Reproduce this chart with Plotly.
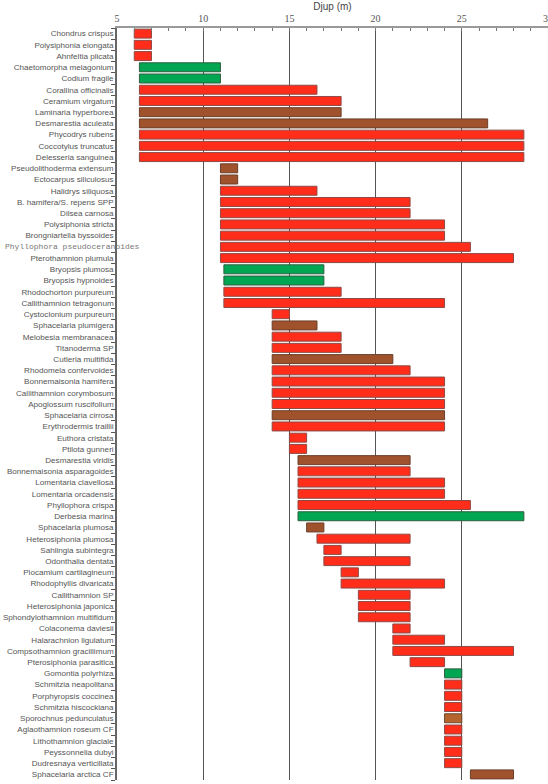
import plotly.graph_objects as go

species = [
    "Chondrus crispus", "Polysiphonia elongata", "Ahnfeltia plicata",
    "Chaetomorpha melagonium", "Codium fragile", "Corallina officinalis",
    "Ceramium virgatum", "Laminaria hyperborea", "Desmarestia aculeata",
    "Phycodrys rubens", "Coccotylus truncatus", "Delesseria sanguinea",
    "Pseudolithoderma extensum", "Ectocarpus siliculosus", "Halidrys siliquosa",
    "B. hamifera/S. repens SPP", "Dilsea carnosa", "Polysiphonia stricta",
    "Brongniartella byssoides", "Phyllophora pseudoceranoides", "Pterothamnion plumula",
    "Bryopsis plumosa", "Bryopsis hypnoides", "Rhodochorton purpureum",
    "Callithamnion tetragonum", "Cystoclonium purpureum", "Sphacelaria plumigera",
    "Melobesia membranacea", "Titanoderma SP", "Cutleria multifida",
    "Rhodomela confervoides", "Bonnemaisonia hamifera", "Callithamnion corymbosum",
    "Apoglossum ruscifolium", "Sphacelaria cirrosa", "Erythrodermis traillii",
    "Euthora cristata", "Ptilota gunneri", "Desmarestia viridis",
    "Bonnemaisonia asparagoides", "Lomentaria clavellosa", "Lomentaria orcadensis",
    "Phyllophora crispa", "Derbesia marina", "Sphacelaria plumosa",
    "Heterosiphonia plumosa", "Sahlingia subintegra", "Odonthalia dentata",
    "Plocamium cartilagineum", "Rhodophyllis divaricata", "Callithamnion SP",
    "Heterosiphonia japonica", "Sphondylothamnion multifidum", "Colaconema daviesii",
    "Halarachnion ligulatum", "Compsothamnion gracillimum", "Pterosiphonia parasitica",
    "Gomontia polyrhiza", "Schmitzia neapolitana", "Porphyropsis coccinea",
    "Schmitzia hiscockiana", "Sporochnus pedunculatus", "Aglaothamnion roseum CF",
    "Lithothamnion glaciale", "Peyssonnelia dubyi", "Dudresnaya verticillata",
    "Sphacelaria arctica CF",
]

depth_min = [
    6, 6, 6,
    6.3, 6.3, 6.3,
    6.3, 6.3, 6.3,
    6.3, 6.3, 6.3,
    11, 11, 11,
    11, 11, 11,
    11, 11, 11,
    11.2, 11.2, 11.2,
    11.2, 14, 14,
    14, 14, 14,
    14, 14, 14,
    14, 14, 14,
    15, 15, 15.5,
    15.5, 15.5, 15.5,
    15.5, 15.5, 16,
    16.6, 17, 17,
    18, 18, 19,
    19, 19, 21,
    21, 21, 22,
    24, 24, 24,
    24, 24, 24,
    24, 24, 24,
    25.5,
]

depth_max = [
    7, 7, 7,
    11, 11, 16.6,
    18, 18, 26.5,
    28.6, 28.6, 28.6,
    12, 12, 16.6,
    22, 22, 24,
    24, 25.5, 28,
    17, 17, 18,
    24, 15, 16.6,
    18, 18, 21,
    22, 24, 24,
    24, 24, 24,
    16, 16, 22,
    22, 24, 24,
    25.5, 28.6, 17,
    22, 18, 22,
    19, 24, 22,
    22, 22, 22,
    24, 28, 24,
    25, 25, 25,
    25, 25, 25,
    25, 25, 25,
    28,
]

# group: r = red alga, g = green alga, b = brown alga, o = light brown
group = [
    "r", "r", "r",
    "g", "g", "r",
    "r", "b", "b",
    "r", "r", "r",
    "b", "b", "r",
    "r", "r", "r",
    "r", "r", "r",
    "g", "g", "r",
    "r", "r", "b",
    "r", "r", "b",
    "r", "r", "r",
    "r", "b", "r",
    "r", "r", "b",
    "r", "r", "r",
    "r", "g", "b",
    "r", "r", "r",
    "r", "r", "r",
    "r", "r", "r",
    "r", "r", "r",
    "g", "r", "r",
    "r", "o", "r",
    "r", "r", "r",
    "b",
]

x_ticks = [5, 10, 15, 20, 25, 30]

fill = {"r": "#FF2D1A", "g": "#00A651", "b": "#A0522D", "o": "#B5652D"}
edge = {"r": "#8E4A46", "g": "#2F5F40", "b": "#6A3F2A", "o": "#6A4A30"}

widths = [hi - lo for lo, hi in zip(depth_min, depth_max)]

fig = go.Figure()
fig.add_trace(go.Bar(
    y=species,
    x=widths,
    base=depth_min,
    orientation="h",
    marker=dict(
        color=[fill[g] for g in group],
        line=dict(color=[edge[g] for g in group], width=1),
    ),
    hoverinfo="skip",
))

ticktext = ["" if s == "Phyllophora pseudoceranoides" else s for s in species]

fig.update_layout(
    width=548,
    height=784,
    margin=dict(l=117, r=0, t=28, b=4),
    paper_bgcolor="white",
    plot_bgcolor="white",
    showlegend=False,
    bargap=0.2,
    xaxis=dict(
        side="top",
        range=[5, 30],
        automargin=False,
        tickvals=x_ticks,
        ticktext=[str(v) for v in x_ticks],
        ticklabeloverflow="allow",
        ticks="inside",
        ticklen=3,
        tickcolor="#777",
        tickfont=dict(family="Liberation Serif", size=10, color="#555"),
        showgrid=True,
        gridcolor="#555",
        gridwidth=1,
        zeroline=False,
        showline=True,
        linecolor="#999",
        linewidth=1.5,
        minor=dict(dtick=1, tick0=5, ticks="inside", ticklen=3, tickcolor="#777", showgrid=False),
        title=dict(text="Djup (m)", font=dict(family="Liberation Sans", size=10, color="#444"), standoff=1),
    ),
    yaxis=dict(
        type="category",
        automargin=False,
        categoryorder="array",
        categoryarray=species,
        tickvals=species,
        ticktext=ticktext,
        autorange="reversed",
        ticks="outside",
        tickson="boundaries",
        ticklen=4,
        tickcolor="#555",
        tickfont=dict(family="Liberation Sans", size=8.1, color="#555"),
        showgrid=False,
        showline=True,
        linecolor="#666",
        linewidth=1.5,
        zeroline=False,
    ),
)

fig.add_annotation(
    text="Phyllophora pseudoceranoides",
    xref="paper", yref="y",
    x=(3 - 117) / 431, y="Phyllophora pseudoceranoides",
    xanchor="left", yanchor="middle",
    showarrow=False,
    font=dict(family="Liberation Mono", size=8, color="#777"),
)

fig.write_html(
    "out.html",
    config={"displayModeBar": False},
    post_script="document.body.style.margin='0px';document.body.style.overflow='hidden';",
)
